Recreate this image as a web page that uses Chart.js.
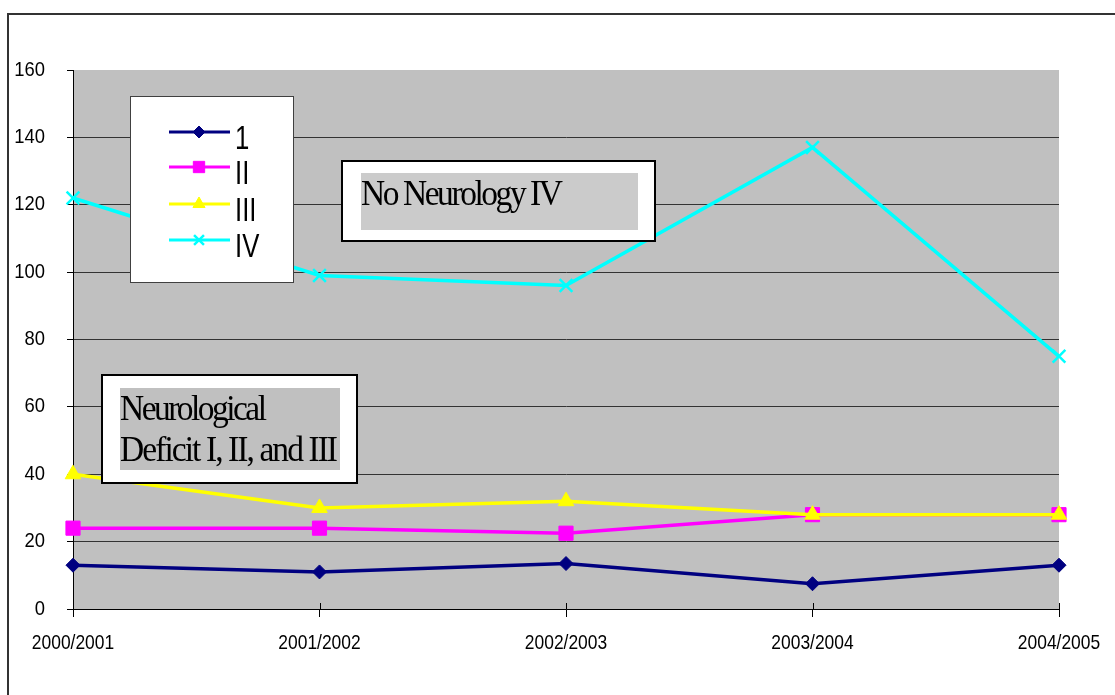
<!DOCTYPE html>
<html>
<head>
<meta charset="utf-8">
<style>
  html, body { margin: 0; padding: 0; background: #fff; }
  #wrap { position: relative; width: 1115px; height: 695px; }
</style>
<script src="https://cdn.jsdelivr.net/npm/chart.js@4/dist/chart.umd.min.js"></script>
</head>
<body>
<div id="wrap"><canvas id="chart"></canvas></div>
<script>
// School years on the category axis
const categories = ['2000/2001', '2001/2002', '2002/2003', '2003/2004', '2004/2005'];

// Series names as shown in the key
const seriesNames = ['1', 'II', 'III', 'IV'];

// Counts per year for each group
const seriesI   = [13, 11, 13.5, 7.5, 13];
const seriesII  = [24, 24, 22.5, 28, 28];
const seriesIII = [40, 30, 32, 28, 28];
const seriesIV  = [122, 99, 96, 137, 75];

// Value axis range and tick spacing
const yMin = 0;
const yMax = 160;
const yStep = 20;

// Text boxes placed over the plot
const noteTop = ['No Neurology IV'];
const noteBottom = ['Neurological', 'Deficit I, II, and III'];

const sansFont = '"Liberation Sans", Arial, sans-serif';
const serifFont = '"Liberation Serif", "Times New Roman", serif';

const seriesStyles = [
  { color: '#000080', pointStyle: 'rectRot',  radius: 7,  keyRadius: 6, borderWidth: 1, order: 4 },
  { color: '#ff00ff', pointStyle: 'rect',     radius: 10, keyRadius: 8, borderWidth: 1, order: 3 },
  { color: '#ffff00', pointStyle: 'triangle', radius: 9,  keyRadius: 7, borderWidth: 1, order: 2 },
  { color: '#00ffff', pointStyle: 'crossRot', radius: 9,  keyRadius: 7, borderWidth: 2.5, order: 1 }
];

const seriesValues = [seriesI, seriesII, seriesIII, seriesIV];

const datasets = seriesValues.map((values, i) => {
  const s = seriesStyles[i];
  return {
    label: seriesNames[i],
    data: values,
    borderColor: s.color,
    backgroundColor: s.color,
    borderWidth: 3.5,
    pointStyle: s.pointStyle,
    pointRadius: s.radius,
    pointBorderWidth: s.borderWidth,
    pointBorderColor: s.color,
    pointBackgroundColor: s.color,
    tension: 0,
    clip: false,
    order: s.order
  };
});

// Page background, plot fill and the outer frame
const backdrop = {
  id: 'backdrop',
  beforeDraw(chart) {
    const { ctx, chartArea: a } = chart;
    ctx.save();
    ctx.fillStyle = '#ffffff';
    ctx.fillRect(0, 0, chart.width, chart.height);
    ctx.fillStyle = '#c0c0c0';
    ctx.fillRect(a.left, a.top, a.right - a.left, a.bottom - a.top);
    ctx.strokeStyle = '#333333';
    ctx.lineWidth = 2;
    ctx.strokeRect(8, 14, chart.width + 20, chart.height + 20);
    ctx.restore();
  }
};

// Draws text squeezed horizontally by sx, with extra spacing so it spans `width`
function tightText(ctx, text, x, y, width, sx) {
  ctx.save();
  ctx.letterSpacing = '0px';
  const natural = ctx.measureText(text).width * sx;
  const gap = (width - natural) / Math.max(1, text.length - 1) / sx;
  ctx.letterSpacing = gap + 'px';
  ctx.translate(x, y);
  ctx.scale(sx, 1);
  ctx.fillText(text, 0, 0);
  ctx.restore();
}

function squeezedText(ctx, text, x, y, sx) {
  ctx.save();
  ctx.translate(x, y);
  ctx.scale(sx, 1);
  ctx.fillText(text, 0, 0);
  ctx.restore();
}

// Narrow axis labels placed from the scales' own pixel positions
const axisLabels = {
  id: 'axisLabels',
  afterDraw(chart) {
    const ctx = chart.ctx;
    const xs = chart.scales.x;
    const ys = chart.scales.y;
    ctx.save();
    ctx.fillStyle = '#000000';
    ctx.strokeStyle = '#000000';
    ctx.lineWidth = 1;

    // x tick marks cross the axis line
    xs.ticks.forEach((t, i) => {
      const px = Math.round(xs.getPixelForTick(i)) + 0.5;
      ctx.beginPath();
      ctx.moveTo(px, xs.top - 6);
      ctx.lineTo(px, xs.top);
      ctx.stroke();
    });

    ctx.font = '21px ' + sansFont;
    ctx.textBaseline = 'middle';
    ctx.textAlign = 'center';
    xs.ticks.forEach((t, i) => {
      const px = xs.getPixelForTick(i);
      squeezedText(ctx, categories[t.value], px, 643, 0.83);
    });

    ctx.font = '20px ' + sansFont;
    ctx.textAlign = 'right';
    ys.ticks.forEach((t) => {
      const py = ys.getPixelForValue(t.value);
      squeezedText(ctx, String(t.value), 45, py, 0.92);
    });
    ctx.restore();
  }
};

// Key box and the two labelled text boxes
const overlays = {
  id: 'overlays',
  afterDatasetsDraw(chart) {
    const ctx = chart.ctx;
    ctx.save();

    // key
    ctx.fillStyle = '#ffffff';
    ctx.fillRect(130, 96, 164, 187);
    ctx.strokeStyle = '#404040';
    ctx.lineWidth = 1;
    ctx.strokeRect(130.5, 96.5, 163, 186);
    const rowY = [132, 167, 204, 240];
    chart.data.datasets.forEach((ds, i) => {
      const y = rowY[i];
      ctx.strokeStyle = ds.borderColor;
      ctx.lineWidth = 3;
      ctx.beginPath();
      ctx.moveTo(169, y);
      ctx.lineTo(230, y);
      ctx.stroke();
      ctx.fillStyle = ds.backgroundColor;
      ctx.strokeStyle = ds.borderColor;
      ctx.lineWidth = ds.pointBorderWidth;
      Chart.helpers.drawPoint(ctx, {
        pointStyle: ds.pointStyle,
        radius: seriesStyles[i].keyRadius,
        rotation: 0,
        borderWidth: ds.pointBorderWidth
      }, 199, y);
      ctx.fillStyle = '#000000';
      ctx.font = '33px ' + sansFont;
      ctx.textBaseline = 'alphabetic';
      ctx.textAlign = 'left';
      squeezedText(ctx, ds.label, 235, y + 17, 0.78);
    });

    // upper note
    ctx.fillStyle = '#ffffff';
    ctx.fillRect(342, 161, 313, 80);
    ctx.strokeStyle = '#000000';
    ctx.lineWidth = 2;
    ctx.strokeRect(342, 161, 313, 80);
    ctx.fillStyle = '#cbcbcb';
    ctx.fillRect(361, 173, 277, 57);
    ctx.fillStyle = '#000000';
    ctx.font = '36px ' + serifFont;
    ctx.textAlign = 'left';
    ctx.textBaseline = 'alphabetic';
    tightText(ctx, noteTop[0], 361, 205, 202, 0.93);

    // lower note
    ctx.fillStyle = '#ffffff';
    ctx.fillRect(102, 375, 255, 108);
    ctx.strokeStyle = '#000000';
    ctx.lineWidth = 2;
    ctx.strokeRect(102, 375, 255, 108);
    ctx.fillStyle = '#c0c0c0';
    ctx.fillRect(120, 388, 220, 82);
    ctx.fillStyle = '#000000';
    tightText(ctx, noteBottom[0], 120, 420, 147, 0.93);
    tightText(ctx, noteBottom[1], 120, 461, 218, 0.93);

    ctx.restore();
  }
};

new Chart(document.getElementById('chart'), {
  type: 'line',
  data: { labels: categories, datasets },
  options: {
    responsive: true,
    maintainAspectRatio: false,
    animation: false,
    events: [],
    layout: { padding: { top: 70, right: 56, left: 0, bottom: 0 } },
    plugins: {
      legend: { display: false },
      title: { display: false },
      tooltip: { enabled: false }
    },
    scales: {
      x: {
        offset: false,
        border: { color: '#000000', width: 1 },
        grid: { drawOnChartArea: false, drawTicks: true, tickLength: 8, tickColor: '#000000' },
        ticks: { display: false, autoSkip: false, maxRotation: 0 },
        afterFit(scale) { scale.height = 86; }
      },
      y: {
        min: yMin,
        max: yMax,
        border: { color: '#000000', width: 1 },
        grid: {
          color: (c) => (c.tick && c.tick.value === yMax ? 'rgba(0,0,0,0)' : '#333333'),
          tickColor: '#000000',
          tickLength: 6,
          lineWidth: 1
        },
        ticks: { display: false, stepSize: yStep },
        afterFit(scale) { scale.width = 73; }
      }
    }
  },
  plugins: [backdrop, overlays, axisLabels]
});
</script>
</body>
</html>
